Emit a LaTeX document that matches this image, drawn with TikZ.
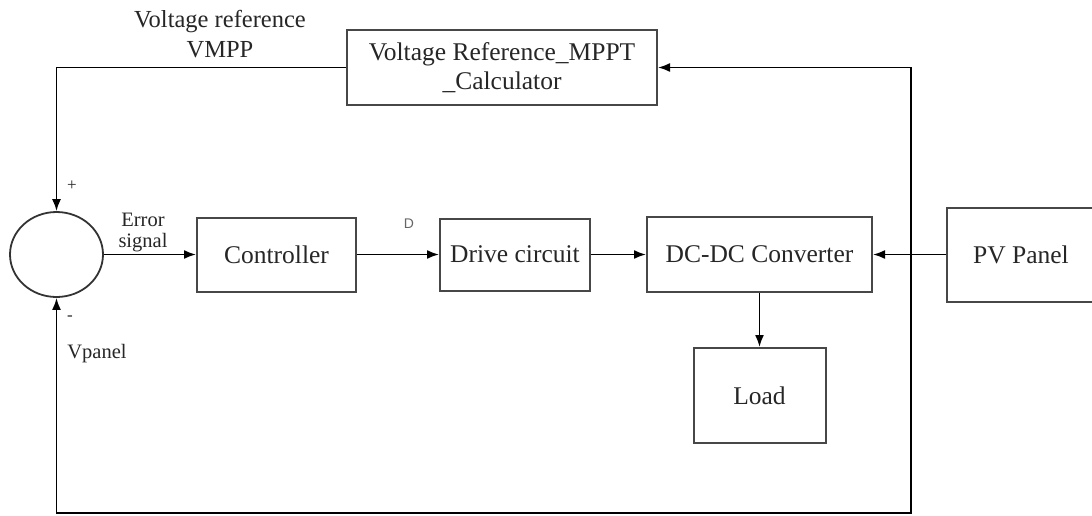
\documentclass[tikz,border=0pt]{standalone}
\usepackage{fontspec}
\setmainfont{Liberation Serif}
\newfontfamily\labelsans{Liberation Sans}
\usetikzlibrary{arrows.meta}
\usetikzlibrary{shapes}

\tikzset{
  blockbox/.style={draw=black!72, line width=2pt, inner sep=0pt, text=black!85,
    font=\fontsize{25.5}{29.5}\selectfont, align=center},
  sig/.style={line width=1.8pt},
  smalltext/.style={text=black!85, inner sep=0pt, font=\fontsize{20.5}{21}\selectfont, align=center}
}

\begin{document}
\begin{tikzpicture}[>={Latex[length=12pt,width=9pt]}, x=1pt, y=-1pt]
\useasboundingbox (0,0) rectangle (1092,515);

\node[name=sum, draw=black!80, line width=1.8pt, ellipse, minimum width=93pt, minimum height=85pt, inner sep=0pt] at (56.5,254.5) {};
\node[name=ctrl, blockbox, minimum width=159pt, minimum height=74pt, right of=sum, node distance=220pt] {Controller};
\node[name=drive, blockbox, minimum width=150pt, minimum height=72pt, right of=ctrl, node distance=238.5pt] {Drive circuit};
\node[name=dcdc, blockbox, minimum width=225pt, minimum height=75pt, right of=drive, node distance=244.5pt] {DC-DC Converter};
\node[name=pv, blockbox, minimum width=148pt, minimum height=94pt, right of=dcdc, node distance=261.5pt] {PV Panel};
\node[name=load, blockbox, minimum width=132pt, minimum height=95pt, below of=dcdc, node distance=141pt] {Load};
\node[name=mppt, blockbox, minimum width=310pt, minimum height=75pt] at (502,67.5) {Voltage Reference\_MPPT\\\_Calculator};
\coordinate (corner_br) at (911,513);

% labels
\node[name=vref_lbl, text=black!85, inner sep=0pt, font=\fontsize{24.5}{29.5}\selectfont, align=center] at (220,34) {Voltage reference\\VMPP};
\node[name=err_lbl, smalltext] at (143,232) {Error\\signal};
\node[name=vpanel_lbl, smalltext] at (97,354) {Vpanel};
\node[name=plus_lbl, smalltext, font=\fontsize{17}{17}\selectfont] at (72,186) {+};
\node[name=minus_lbl, smalltext, font=\fontsize{17}{17}\selectfont] at (70,318) {-};
\node[name=d_lbl, text=black!60, inner sep=0pt, font=\labelsans\fontsize{14}{14}\selectfont] at (409,224) {D};

% connectors
\draw[sig,->] (mppt.west) -| (sum.north);
\draw[sig,->] (sum.east) -- (ctrl.west);
\draw[sig,->] (ctrl.east) -- (drive.west);
\draw[sig,->] (drive.east) -- (dcdc.west);
\draw[sig,->] (pv.west) -- (dcdc.east);
\draw[sig,->] (dcdc.south) -- (load.north);
\draw[sig,<->] (sum.south) |- (corner_br) |- (mppt.east);
\end{tikzpicture}
\end{document}
